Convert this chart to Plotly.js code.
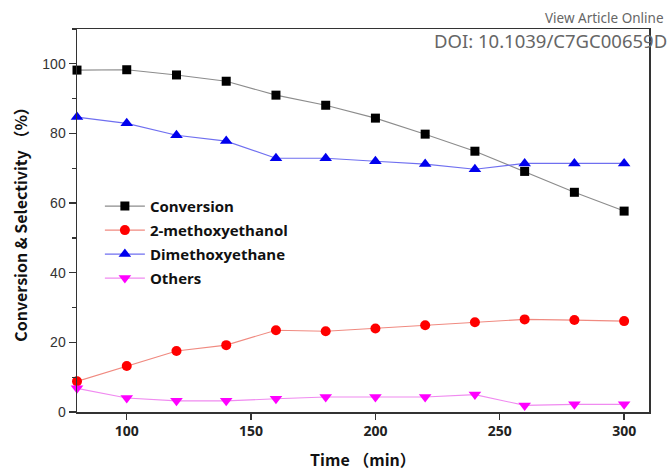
<!DOCTYPE html>
<html>
<head>
<meta charset="utf-8">
<script src="https://cdn.plot.ly/plotly-3.0.1.min.js"></script>
<style>
  html, body { margin: 0; padding: 0; background: #fff; }
  #chart { width: 669px; height: 471px; }
</style>
</head>
<body>
<div id="chart"></div>
<script>
// Reaction time (min)
const time = [80, 100, 120, 140, 160, 180, 200, 220, 240, 260, 280, 300];

// Conversion and product selectivities (%)
const conversion      = [98.2, 98.3, 96.8, 95.0, 91.0, 88.1, 84.4, 79.8, 74.9, 69.1, 63.1, 57.7];
const methoxyethanol  = [8.8, 13.2, 17.5, 19.2, 23.5, 23.2, 24.0, 24.9, 25.8, 26.6, 26.4, 26.1];
const dimethoxyethane = [84.7, 82.9, 79.5, 77.8, 72.9, 72.9, 72.0, 71.2, 69.7, 71.4, 71.4, 71.4];
const others          = [6.8, 4.0, 3.2, 3.2, 3.8, 4.3, 4.3, 4.3, 5.0, 1.9, 2.2, 2.2];

const seriesNames = ['Conversion', '2-methoxyethanol', 'Dimethoxyethane', 'Others'];

const xTicks = [100, 150, 200, 250, 300];
const yTicks = [0, 20, 40, 60, 80, 100];

function series(name, y, lineColor, markerColor, symbol, size) {
  return {
    x: time, y: y, name: '<b>' + name + '</b>', legendgroup: name,
    type: 'scatter', mode: 'lines+markers',
    line: { color: lineColor, width: 1.1 },
    marker: { color: markerColor, symbol: symbol, size: size, line: { width: 0 } },
    cliponaxis: false
  };
}

const traces = [
  series(seriesNames[0], conversion, '#8c8c8c', '#000000', 'square', 9),
  series(seriesNames[1], methoxyethanol, '#f08a80', '#ff0000', 'circle', 10),
  series(seriesNames[2], dimethoxyethane, '#6f6ff0', '#0000ee', 'triangle-up', 11),
  series(seriesNames[3], others, '#f08af0', '#ff00ff', 'triangle-down', 11)
];

const layout = {
  width: 669, height: 471,
  margin: { l: 77, r: 20, t: 29, b: 59 },
  paper_bgcolor: '#ffffff', plot_bgcolor: '#ffffff',
  showlegend: true,
  legend: {
    x: 0.04, y: 0.58, xanchor: 'left', yanchor: 'top',
    bgcolor: 'rgba(0,0,0,0)',
    font: { family: 'Open Sans, sans-serif', size: 15, color: '#111' },
    tracegroupgap: 1.5,
    itemwidth: 40
  },
  xaxis: {
    range: [80, 310],
    tickvals: xTicks, ticktext: xTicks.map(v => '<b>' + v + '</b>'),
    ticks: 'outside', ticklen: 6, tickwidth: 1.3, tickcolor: '#333',
    showline: true, linecolor: '#333', linewidth: 1.5, mirror: true,
    showgrid: false, zeroline: false,
    tickfont: { family: 'Open Sans, sans-serif', size: 14, color: '#222' },
    title: { text: '<b>Time （min）</b>', font: { family: 'Noto Sans CJK SC, Open Sans, sans-serif', size: 16, color: '#111' }, standoff: 16 }
  },
  yaxis: {
    range: [0, 110],
    tickvals: yTicks,
    ticks: 'outside', ticklen: 7, tickwidth: 1.3, tickcolor: '#333',
    minor: { dtick: 10, tick0: 0, ticks: 'outside', ticklen: 4, tickwidth: 1.2, tickcolor: '#333', showgrid: false },
    showline: true, linecolor: '#333', linewidth: 1.5, mirror: true,
    showgrid: false, zeroline: false,
    tickfont: { family: 'Liberation Sans, Arial, sans-serif', size: 14, color: '#333' },
    title: { text: '<b>Conversion &amp; Selectivity （%）</b>', font: { family: 'Noto Sans CJK SC, Open Sans, sans-serif', size: 16, color: '#111' }, standoff: 10 }
  },
  annotations: [
    { text: 'View Article Online', xref: 'paper', yref: 'paper', x: 1.03, y: 1.029, xanchor: 'right', yanchor: 'middle',
      showarrow: false, font: { family: 'Noto Sans, sans-serif', size: 13.5, color: '#666' } },
    { text: 'DOI: 10.1039/C7GC00659D', xref: 'paper', yref: 'paper', x: 1.035, y: 0.971, xanchor: 'right', yanchor: 'middle',
      showarrow: false, font: { family: 'Noto Sans, sans-serif', size: 18.5, color: '#666' } }
  ]
};

Plotly.newPlot('chart', traces, layout, { displayModeBar: false, staticPlot: true });
</script>
</body>
</html>
